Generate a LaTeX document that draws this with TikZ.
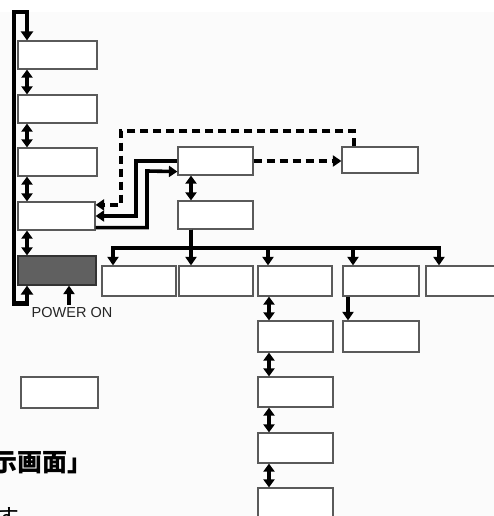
\documentclass[tikz,border=0pt]{standalone}
\usepackage{fontspec}
\setmainfont{Liberation Sans}
\newfontfamily\cjkfont{Noto Sans CJK JP}
\usetikzlibrary{arrows.meta,calc}
\definecolor{bgcol}{RGB}{251,251,251}
\definecolor{boxline}{RGB}{90,90,90}
\definecolor{darkfill}{RGB}{96,96,96}
\begin{document}
\begin{tikzpicture}[x=1pt,y=-1pt,
  box/.style={draw=boxline,line width=1.2pt,fill=white,inner sep=0pt,minimum width=#1,minimum height=28pt},
  box/.default=77pt,
  darkbox/.style={draw=black!80,line width=1.2pt,fill=darkfill,inner sep=0pt,minimum width=78pt,minimum height=29pt},
  arr/.style={line width=3.6pt,line join=miter,-{Triangle[width=11pt,length=8.5pt]}},
  barr/.style={line width=4.5pt,line join=miter,{Triangle[width=12pt,length=9pt]}-{Triangle[width=12pt,length=9pt]}},
  dbl/.style={line width=3.6pt,{Triangle[width=11pt,length=8pt]}-{Triangle[width=11pt,length=8pt]}},
  dasharr/.style={line width=3.6pt,dash pattern=on 8pt off 5pt,line join=miter,-{Triangle[width=11pt,length=8.5pt]}},
  lbl/.style={font=\fontsize{14.5pt}{16pt}\selectfont,text=black!85,inner sep=0pt}
]
\useasboundingbox (0,0) rectangle (494,516);
\clip (0,0) rectangle (494,516);
\fill[bgcol] (0,12) rectangle (494,516);

% left column
\node[box=79pt] (b1) at (57.5,55) {};
\node[box=79pt] (b2) at (57.5,109) {};
\node[box=79pt] (b3) at (57.5,162) {};
\node[box=77pt] (b4) at (56.5,216) {};
\node[darkbox] (dk) at (57,270.5) {};
\node[box=77pt,minimum height=31pt] (lone) at (59.5,392.5) {};
\node[lbl] (pw) at (72,313) {POWER ON};

% middle
\node[box=75pt] (A) at (215.5,161) {};
\node[box=76pt,minimum height=26pt] (B) at (380,160) {};
\node[box=75pt] (C) at (215.5,215) {};

% row
\node[box=74pt,minimum height=30pt] (R1) at (139,281) {};
\node[box=74pt,minimum height=30pt] (R2) at (216,281) {};
\node[box=74pt,minimum height=30pt] (R3) at (295,281) {};
\node[box=76pt,minimum height=30pt] (R4) at (381,281) {};
\node[box=74pt,minimum height=30pt] (R5) at (463,281) {};

% column under R3
\node[box=75pt,minimum height=31pt] (D1) at (295.5,336.5) {};
\node[box=75pt,minimum height=30pt] (D2) at (295.5,392) {};
\node[box=75pt,minimum height=30pt] (D3) at (295.5,448) {};
\node[box=75pt,minimum height=31pt] (D4) at (295.5,503.5) {};
\node[box=76pt,minimum height=31pt] (E1) at (381,336.5) {};

% loop bar on the left
\coordinate (lx) at (14,0);
\coordinate (ax) at (27,0);
\draw[barr] (dk.south -| ax) -- ++(0,18) -| (lx |- 0,12) -| (b1.north -| ax);

% double arrows left column
\draw[dbl] (b1.south -| ax) -- (b2.north -| ax);
\draw[dbl] (b2.south -| ax) -- (b3.north -| ax);
\draw[dbl] (b3.south -| ax) -- (b4.north -| ax);
\draw[dbl] (b4.south -| ax) -- (dk.north -| ax);

% power on arrow
\coordinate (px) at (69,0);
\draw[arr] ($(pw.north -| px)+(0,-3)$) -- (dk.south -| px);

% dashed loop from B back to b4
\coordinate (dx) at (121,131);
\draw[dasharr] (B.north -| 354,0) |- (dx) |- ($(b4.north east)+(0,3.5)$);
% solid A -> b4
\coordinate (s1) at (136,0);
\draw[arr] (A.west) -| (s1 |- b4.east) -- (b4.east);
% solid b4 -> A
\coordinate (s2) at (147,0);
\draw[arr] ($(b4.south east)+(0,-3)$) -| (s2 |- 0,171) -- ($(A.south west)+(0,-4)$);
% dashed A -> B
\draw[dasharr] (A.east) -- (B.west |- A.east);

% A <-> C
\coordinate (cx) at (191,0);
\draw[dbl] (A.south -| cx) -- (C.north -| cx);

% bus
\coordinate (bus) at (0,248);
\draw[arr] (C.south -| cx) |- (bus -| 113,0) -- (R1.north -| 113,0);
\draw[arr] (C.south -| cx) -- (R2.north -| cx);
\draw[arr] (C.south -| cx) |- (bus -| 268,0) -- (R3.north -| 268,0);
\draw[arr] (C.south -| cx) |- (bus -| 353,0) -- (R4.north -| 353,0);
\draw[arr] (C.south -| cx) |- (bus -| 439,0) -- (R5.north -| 439,0);
\draw[line width=4.2pt] (bus -| 113,0) -- (bus -| 439,0);

% column arrows
\coordinate (dxx) at (269,0);
\draw[dbl] (R3.south -| dxx) -- (D1.north -| dxx);
\draw[dbl] (D1.south -| dxx) -- (D2.north -| dxx);
\draw[dbl] (D2.south -| dxx) -- (D3.north -| dxx);
\draw[dbl] (D3.south -| dxx) -- (D4.north -| dxx);
\draw[arr] (R4.south -| 348,0) -- (E1.north -| 348,0);

% japanese text fragments
\node[anchor=base west,inner sep=0pt,font=\cjkfont\bfseries\fontsize{25pt}{27pt}\selectfont] (t1) at (-8,471) {示画面」};
\node[anchor=base west,inner sep=0pt,font=\cjkfont\fontsize{24pt}{26pt}\selectfont] (t2) at (-5,526) {す};
\end{tikzpicture}
\end{document}
